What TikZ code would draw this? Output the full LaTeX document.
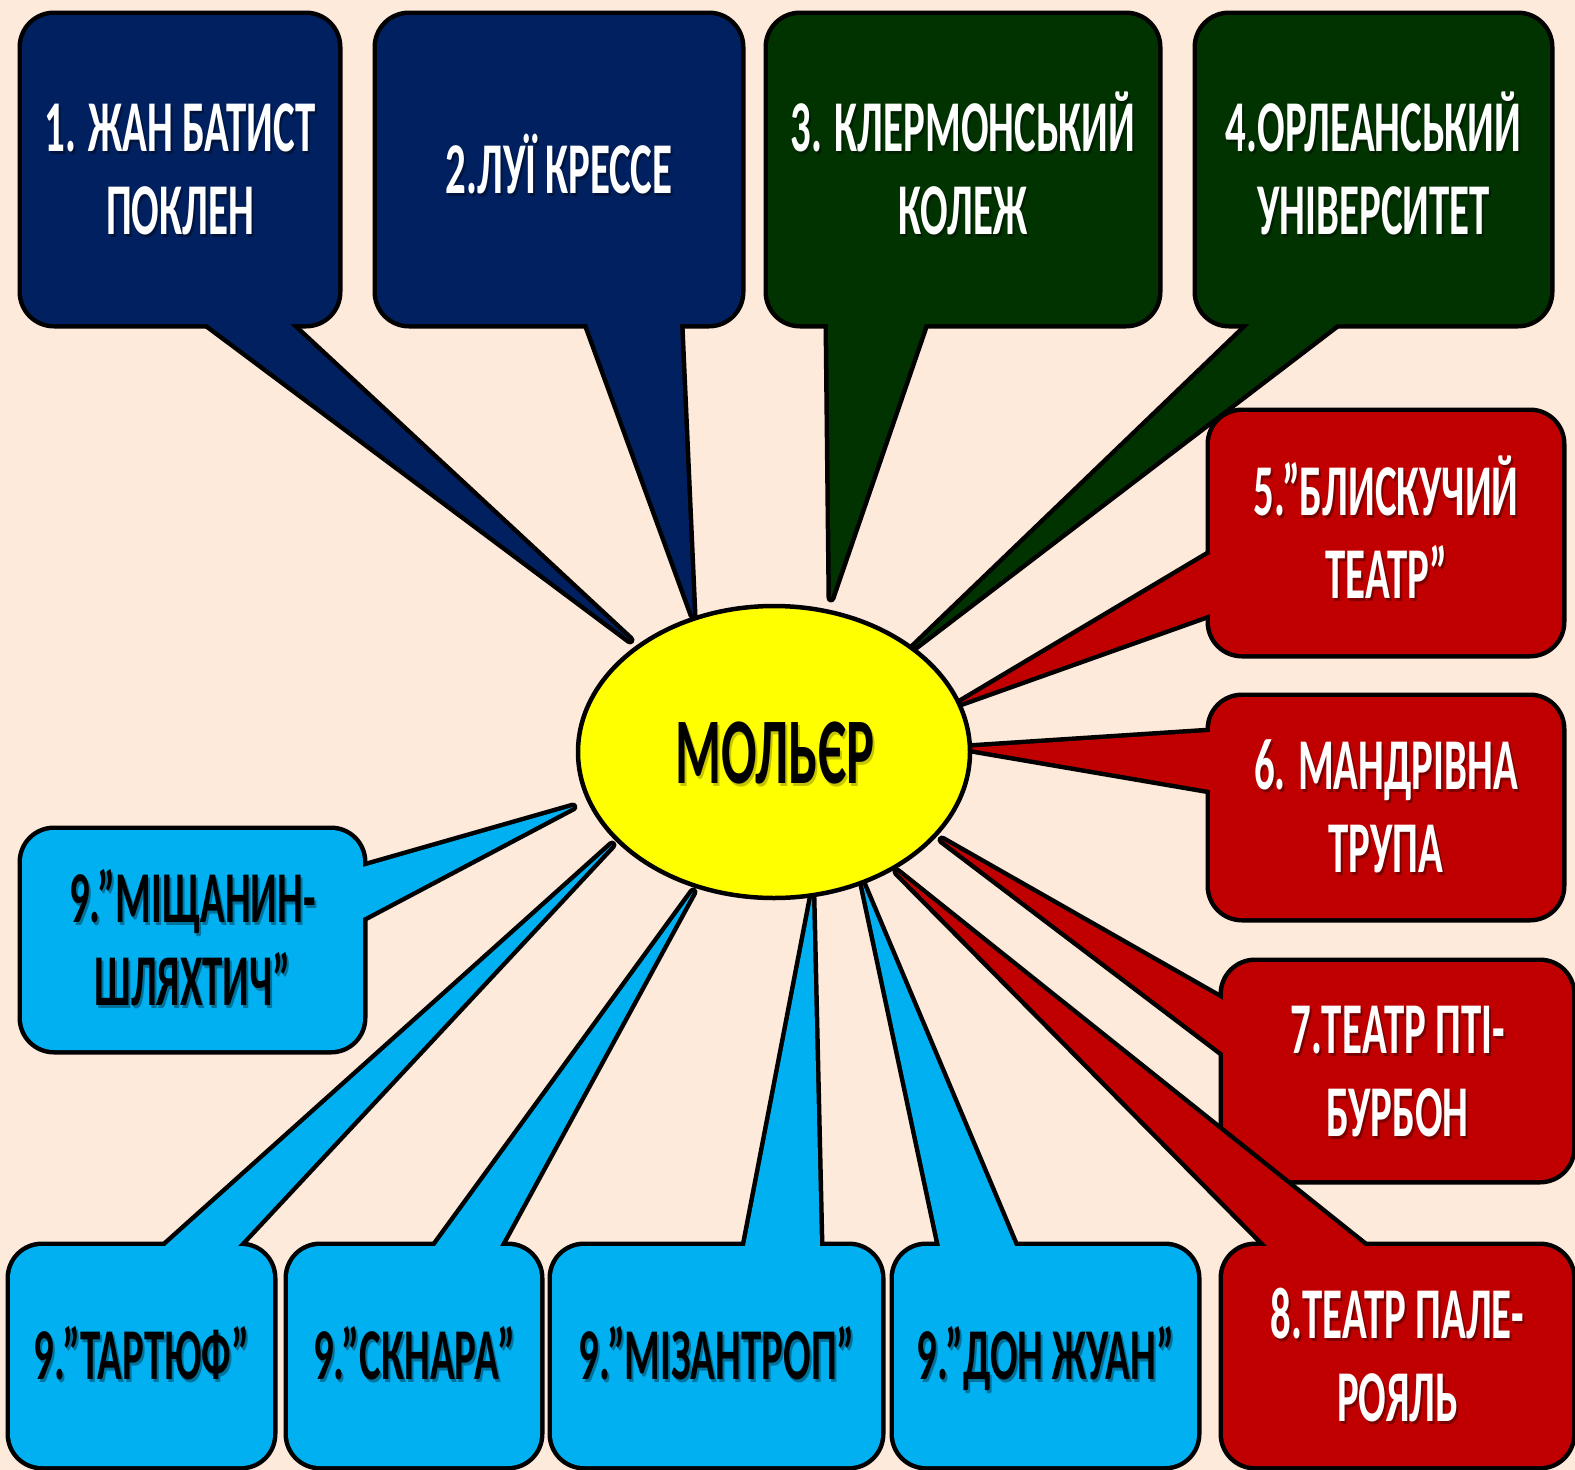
\documentclass[tikz,border=0pt]{standalone}
\usepackage{fontspec}
\newfontfamily\cf[FakeStretch=0.56]{Carlito}
\usetikzlibrary{calc,shapes.geometric}
\definecolor{bg}{HTML}{FDEADB}
\definecolor{navy}{HTML}{002060}
\definecolor{dgreen}{HTML}{003300}
\definecolor{dred}{HTML}{C00000}
\definecolor{cyanb}{HTML}{00B0F0}
\definecolor{yel}{HTML}{FFFF00}
\tikzset{
  cobox/.style={draw=black,line width=9pt,rounded corners=32pt},
  cotail/.style={draw=black,line width=9pt,line join=round},
  lbl/.style={font=\cf\bfseries\fontsize{73}{83}\selectfont,align=center,inner sep=0pt,text height=47pt,text depth=0pt},
  twolines/.style={text height=130pt},
}
\newcommand\callout[5][]{%
  \filldraw[cobox,fill=#3] (#2a) rectangle (#2b);
  \filldraw[cotail,fill=#3] ($(#2tip)!1.12!(#2ta)$) -- (#2tip) -- ($(#2tip)!1.12!(#2tb)$) -- cycle;
  \fill[#3,rounded corners=32pt] (#2a) rectangle (#2b);
  \fill[#3] ($(#2tip)!1.12!(#2ta)$) -- (#2tip) -- ($(#2tip)!1.12!(#2tb)$) -- cycle;
  \coordinate (#2c) at ($(#2a)!0.5!(#2b)$);
  \node[lbl,#1,text=black,opacity=0.35] (#2shadow) at ($(#2c)+(2,3)$) {#5};
  \node[lbl,#1,text=#4] (#2text) at (#2c) {#5};
}
\begin{document}
\begin{tikzpicture}[x=1pt,y=-1pt]
\fill[bg] (0,0) rectangle (1575,1470);
\useasboundingbox (0,0) rectangle (1575,1470);
% geometry
\coordinate (Aa) at (22,15);    \coordinate (Ab) at (338,324);
\coordinate (Ata) at (207,324); \coordinate (Atb) at (290,324); \coordinate (Atip) at (630,640);
\coordinate (Ba) at (377,15);   \coordinate (Bb) at (741,324);
\coordinate (Bta) at (587,324); \coordinate (Btb) at (680,324); \coordinate (Btip) at (693,615);
\coordinate (Ca) at (768,15);   \coordinate (Cb) at (1158,324);
\coordinate (Cta) at (828,324); \coordinate (Ctb) at (925,324); \coordinate (Ctip) at (831,598);
\coordinate (Da) at (1197,15);  \coordinate (Db) at (1550,324);
\coordinate (Dta) at (1250,324); \coordinate (Dtb) at (1337,324); \coordinate (Dtip) at (913,648);
\coordinate (Ea) at (1210,412); \coordinate (Eb) at (1562,654);
\coordinate (Eta) at (1210,554); \coordinate (Etb) at (1210,614); \coordinate (Etip) at (960,703);
\coordinate (Fa) at (1210,697); \coordinate (Fb) at (1562,918);
\coordinate (Fta) at (1210,732); \coordinate (Ftb) at (1210,790); \coordinate (Ftip) at (965,748);
\coordinate (Ga) at (1223,962); \coordinate (Gb) at (1572,1180);
\coordinate (Gta) at (1223,1000); \coordinate (Gtb) at (1223,1053); \coordinate (Gtip) at (942,840);
\coordinate (Ha) at (1223,1246); \coordinate (Hb) at (1572,1466);
\coordinate (Hta) at (1267,1246); \coordinate (Htb) at (1365,1246); \coordinate (Htip) at (897,872);
\coordinate (Ia) at (22,830);   \coordinate (Ib) at (363,1050);
\coordinate (Ita) at (363,867); \coordinate (Itb) at (363,918); \coordinate (Itip) at (573,807);
\coordinate (Ja) at (10,1246);  \coordinate (Jb) at (273,1466);
\coordinate (Jta) at (165,1246); \coordinate (Jtb) at (238,1246); \coordinate (Jtip) at (612,845);
\coordinate (Ka) at (288,1246); \coordinate (Kb) at (540,1466);
\coordinate (Kta) at (435,1246); \coordinate (Ktb) at (500,1246); \coordinate (Ktip) at (693,892);
\coordinate (La) at (552,1246); \coordinate (Lb) at (881,1466);
\coordinate (Lta) at (745,1246); \coordinate (Ltb) at (820,1246); \coordinate (Ltip) at (812,898);
\coordinate (Ma) at (894,1246); \coordinate (Mb) at (1197,1466);
\coordinate (Mta) at (940,1246); \coordinate (Mtb) at (1015,1246); \coordinate (Mtip) at (863,885);
% callouts
\callout[twolines]{A}{navy}{white}{1. ЖАН БАТИСТ\\ПОКЛЕН}
\callout{B}{navy}{white}{2.ЛУЇ КРЕССЕ}
\callout[twolines]{C}{dgreen}{white}{3. КЛЕРМОНСЬКИЙ\\КОЛЕЖ}
\callout[twolines]{D}{dgreen}{white}{4.ОРЛЕАНСЬКИЙ\\УНІВЕРСИТЕТ}
\callout[twolines]{E}{dred}{white}{5.”БЛИСКУЧИЙ\\ТЕАТР”}
\callout[twolines]{F}{dred}{white}{6. МАНДРІВНА\\ТРУПА}
\callout[twolines]{G}{dred}{white}{7.ТЕАТР ПТІ-\\БУРБОН}
\callout[twolines]{H}{dred}{white}{8.ТЕАТР ПАЛЕ-\\РОЯЛЬ}
\callout[twolines]{I}{cyanb}{black}{9.”МІЩАНИН-\\ШЛЯХТИЧ”}
\callout{J}{cyanb}{black}{9.”ТАРТЮФ”}
\callout{K}{cyanb}{black}{9.”СКНАРА”}
\callout{L}{cyanb}{black}{9.”МІЗАНТРОП”}
\callout{M}{cyanb}{black}{9.”ДОН ЖУАН”}
% centre
\node[ellipse,draw=black,line width=4.5pt,fill=yel,minimum width=392pt,minimum height=292pt,inner sep=0pt] (mol) at (774,752) {};
\node[font=\cf\bfseries\fontsize{94}{100}\selectfont,inner sep=0pt,text height=59pt,text depth=0pt,text=yel!55!black,opacity=0.5] (molshadow) at (777,757) {МОЛЬЄР};
\node[font=\cf\bfseries\fontsize{94}{100}\selectfont,inner sep=0pt,text height=59pt,text depth=0pt,text=black] (moltext) at (775,754) {МОЛЬЄР};
\end{tikzpicture}
\end{document}
